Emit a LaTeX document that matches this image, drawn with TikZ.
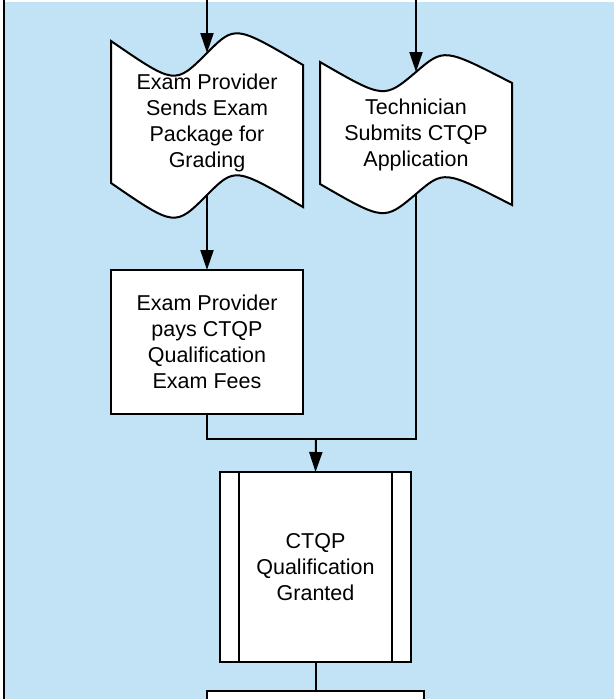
\documentclass[tikz,border=0pt]{standalone}
\usepackage{fontspec}
\setmainfont{Liberation Sans}
\usetikzlibrary{arrows.meta}

\definecolor{lanebg}{RGB}{194,227,245}

\tikzset{
  flow/.style={line width=2pt, draw=black},
  arr/.style={flow, -{Triangle[length=20pt, width=13pt]}},
  lbl/.style={align=center, font=\fontsize{21.5}{26}\selectfont},
  procbox/.style={flow, fill=white, outer sep=0pt, inner sep=0pt,
                  minimum width=192pt, minimum height=144pt},
  tape/.style={flow, fill=white}
}

\begin{document}
\begin{tikzpicture}[x=1pt, y=-1pt]
\useasboundingbox (0,0) rectangle (614,699);

% --- Carril de fondo ---
\fill[white] (0,0) rectangle (614,699);
\fill[lanebg] (4,2) rectangle (614,699);
\draw[flow] (4,0) -- (4,699);

% --- Exam Provider envia paquete (cinta) ---
\draw[tape] (111,41) .. controls (175,85) .. (207,53) .. controls (235,25) .. (303,65)
      -- (303,207) .. controls (235,167) .. (207,195) .. controls (175,227) .. (111,183)
      -- cycle;
\coordinate (send_in) at (207,0);
\coordinate (send_top) at (207,53);
\coordinate (send_bot) at (207,195);
\node[lbl] (sends) at (207,123) {Exam Provider\\Sends Exam\\Package for\\Grading};

% --- Technician solicita CTQP (cinta) ---
\draw[tape] (320,62) .. controls (384,99) .. (416,72) .. controls (444,48) .. (512,83)
      -- (512,205) .. controls (444,170) .. (416,194) .. controls (384,221) .. (320,184)
      -- cycle;
\coordinate (apply_in) at (416,0);
\coordinate (apply_top) at (416,72);
\coordinate (apply_bot) at (416,194);
\node[lbl] (submits) at (416,135) {Technician\\Submits CTQP\\Application};

% --- Pago de tarifas ---
\node[procbox, lbl] (fees) at (207,342) {Exam Provider\\pays CTQP\\Qualification\\Exam Fees};

% --- Proceso predefinido ---
\node[procbox, lbl, minimum width=191pt, minimum height=190pt] (granted) at (315.5,567)
      {CTQP\\Qualification\\Granted};
\draw[flow] ([xshift=19pt]granted.north west) -- ([xshift=19pt]granted.south west);
\draw[flow] ([xshift=-19pt]granted.north east) -- ([xshift=-19pt]granted.south east);

% siguiente caja (cortada)
\node[procbox, minimum width=217pt, minimum height=40pt, anchor=north] (next) at (315.5,691) {};

% --- Conexiones ---
\coordinate (merge) at (316,439);
\draw[arr] (send_in) -- (send_top);
\draw[arr] (apply_in) -- (apply_top);
\draw[arr] (send_bot) -- (fees.north);
\draw[flow] (fees.south) |- (merge) -| (apply_bot);
\draw[arr] (merge) -- (granted.north);
\draw[flow] (granted.south) -- (next.north);

\end{tikzpicture}
\end{document}
